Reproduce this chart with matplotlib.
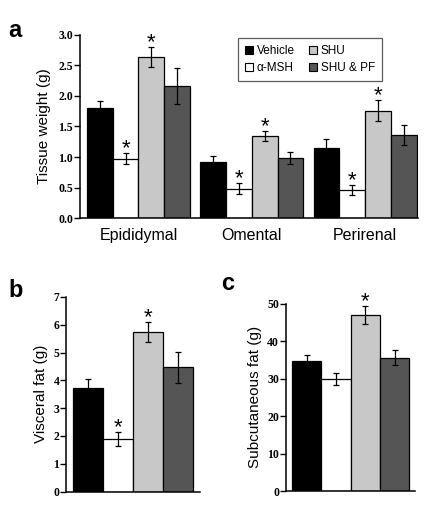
import numpy as np
import matplotlib
matplotlib.use('Agg')
from matplotlib import pyplot as plt
from matplotlib.patches import Patch

# 데이터
groups = ['Vehicle', 'α-MSH', 'SHU', 'SHU & PF']
colors = ['#000000', '#ffffff', '#c8c8c8', '#555555']

tissues = ['Epididymal', 'Omental', 'Perirenal']
tissue_mean = [[1.81, 0.97, 2.64, 2.16],
               [0.92, 0.48, 1.34, 0.98],
               [1.15, 0.46, 1.76, 1.36]]
tissue_err = [[0.10, 0.09, 0.16, 0.29],
              [0.10, 0.09, 0.08, 0.10],
              [0.14, 0.08, 0.17, 0.17]]
tissue_sig = [[False, True, True, False],
              [False, True, True, False],
              [False, True, True, False]]

visceral_mean = [3.71, 1.88, 5.73, 4.47]
visceral_err = [0.33, 0.25, 0.36, 0.56]
visceral_sig = [False, True, True, False]

subq_mean = [34.8, 29.9, 47.0, 35.6]
subq_err = [1.6, 1.6, 2.4, 1.9]
subq_sig = [False, False, True, False]

sans = 'Liberation Sans'
serif = 'Liberation Serif'

fig = plt.figure(figsize=(4.36, 5.11), dpi=100)


def style_axis(ax, yticks, fmt):
    for s in ['top', 'right']:
        ax.spines[s].set_visible(False)
    for s in ['left', 'bottom']:
        ax.spines[s].set_linewidth(1.1)
    ax.set_yticks(yticks)
    ax.set_yticklabels([fmt.format(t) for t in yticks],
                       fontfamily=serif, fontweight='bold', fontsize=8.5)
    ax.tick_params(axis='y', direction='out', length=4, width=1, pad=1)
    ax.tick_params(axis='x', length=0)
    ax.set_ylim(0, yticks[-1])


def draw_bars(ax, xs, means, errs, sigs):
    ax.bar(xs, means, width=1.0, color=colors, edgecolor='black', linewidth=0.9, zorder=2)
    ax.errorbar(xs, means, yerr=errs, fmt='none', ecolor='black',
                elinewidth=0.9, capsize=2.5, capthick=0.9, zorder=3)
    for x, m, e, s in zip(xs, means, errs, sigs):
        if s:
            ax.annotate('*', (x, m + e), xytext=(0, -4.5), textcoords='offset points',
                        ha='center', va='bottom', fontsize=16, fontfamily=sans)


# a
ax_a = fig.add_axes([0.1835, 0.573, 0.775, 0.359])
centers = np.arange(len(tissues)) * 4.4
offsets = np.array([-1.5, -0.5, 0.5, 1.5])
for i in range(len(tissues)):
    draw_bars(ax_a, centers[i] + offsets, tissue_mean[i], tissue_err[i], tissue_sig[i])
style_axis(ax_a, [0.0, 0.5, 1.0, 1.5, 2.0, 2.5, 3.0], '{:.1f}')
ax_a.set_xlim(-2.27, centers[-1] + 2.05)
ax_a.set_xticks(centers)
ax_a.set_xticklabels(tissues, fontfamily=sans, fontsize=11.5)
ax_a.tick_params(axis='x', pad=7)
ax_a.set_ylabel('Tissue weight (g)', fontfamily=sans, fontsize=11, labelpad=5)
handles = [Patch(facecolor=c, edgecolor='black', linewidth=0.8) for c in colors]
leg = ax_a.legend(handles, groups, ncol=2, loc='upper right', bbox_to_anchor=(0.912, 1.015),
                  prop={'family': sans, 'size': 8.5}, frameon=True, fancybox=False,
                  handlelength=0.7, handleheight=0.7, handletextpad=0.3,
                  columnspacing=1.2, labelspacing=0.45, borderpad=0.6)
leg.get_frame().set_edgecolor('#333333')
leg.get_frame().set_linewidth(0.9)

# b
ax_b = fig.add_axes([0.152, 0.038, 0.307, 0.381])
draw_bars(ax_b, np.arange(4), visceral_mean, visceral_err, visceral_sig)
style_axis(ax_b, [0, 1, 2, 3, 4, 5, 6, 7], '{:d}')
ax_b.set_xlim(-0.72, 3.73)
ax_b.set_xticks([])
ax_b.set_ylabel('Visceral fat (g)', fontfamily=sans, fontsize=11, labelpad=4)

# c
ax_c = fig.add_axes([0.656, 0.039, 0.296, 0.367])
draw_bars(ax_c, np.arange(4), subq_mean, subq_err, subq_sig)
style_axis(ax_c, [0, 10, 20, 30, 40, 50], '{:d}')
ax_c.set_xlim(-0.7, 3.7)
ax_c.set_xticks([])
ax_c.set_ylabel('Subcutaneous fat (g)', fontfamily=sans, fontsize=11, labelpad=4)

# 패널 라벨
fig.text(0.020, 0.928, 'a', fontfamily=sans, fontweight='bold', fontsize=17, va='baseline')
fig.text(0.020, 0.418, 'b', fontfamily=sans, fontweight='bold', fontsize=17, va='baseline')
fig.text(0.508, 0.432, 'c', fontfamily=sans, fontweight='bold', fontsize=17, va='baseline')

fig.savefig('out.png', dpi=100)
